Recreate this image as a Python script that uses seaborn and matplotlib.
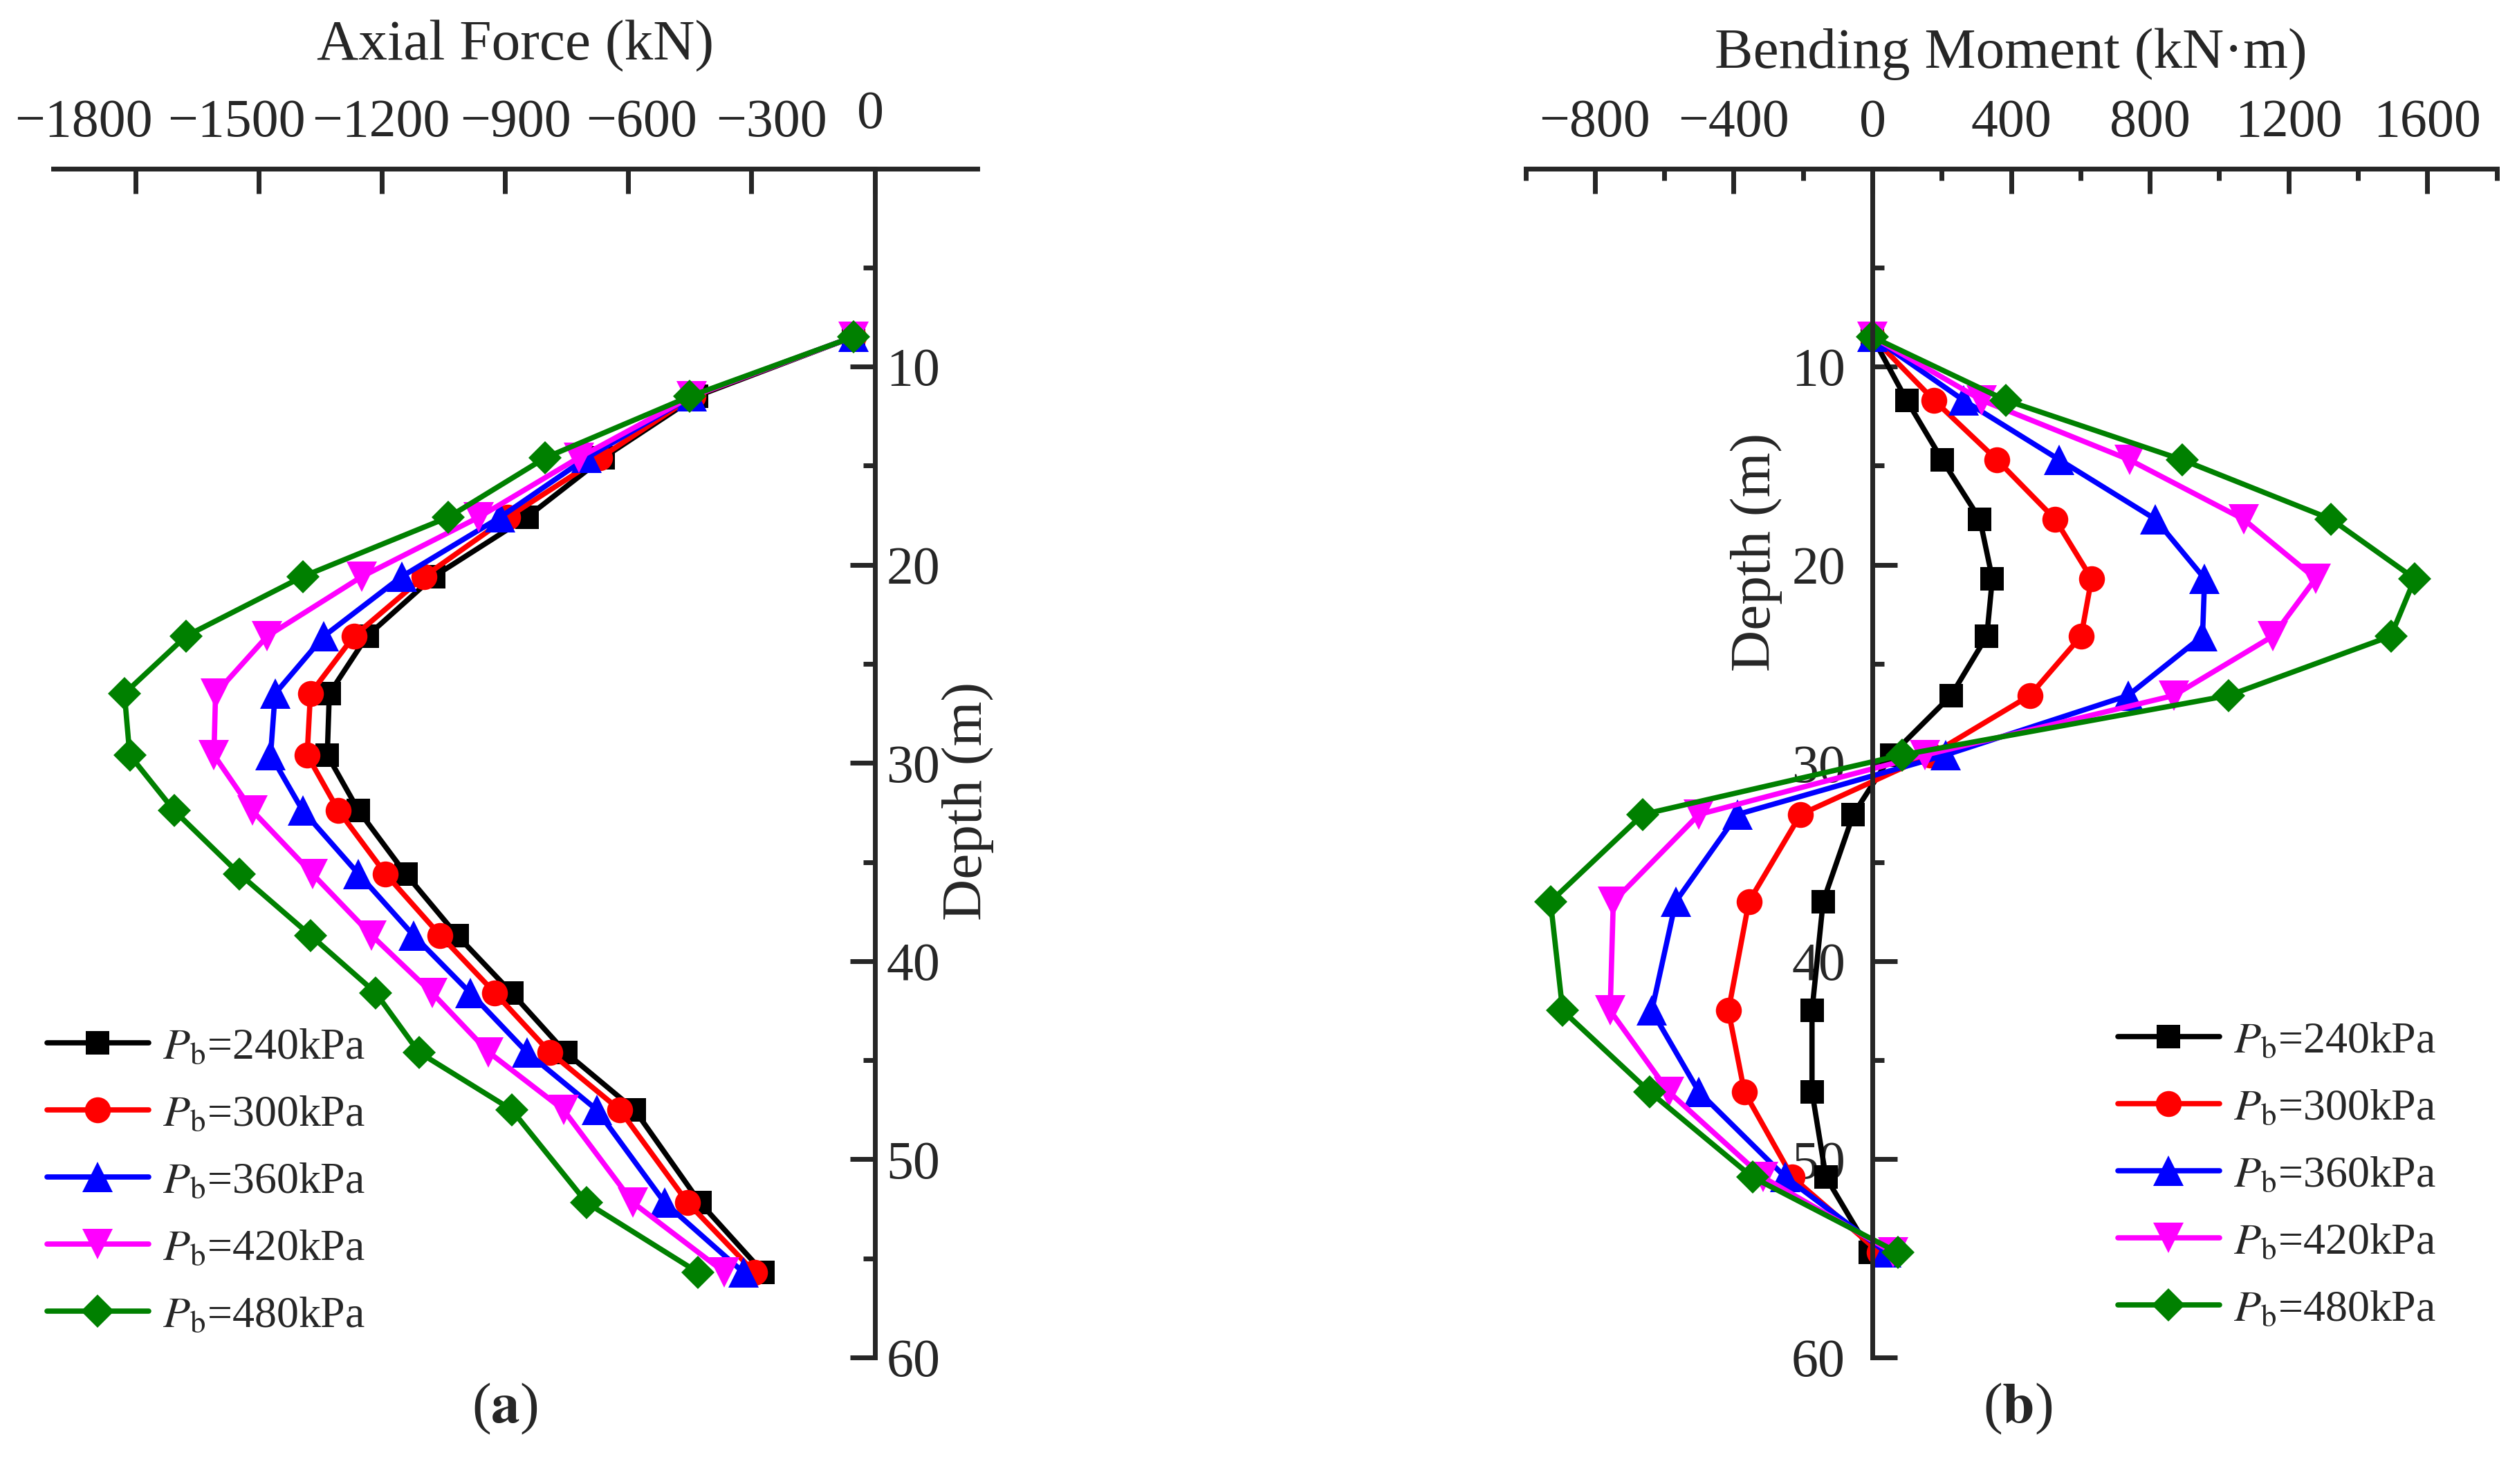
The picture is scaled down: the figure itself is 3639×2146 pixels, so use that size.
import numpy as np
import pandas as pd
import seaborn as sns
import matplotlib
matplotlib.use("Agg")
import matplotlib.pyplot as plt
import matplotlib.transforms as mtransforms
from matplotlib.ticker import MultipleLocator, FuncFormatter

# loads (kPa) and styles
loads = ["240", "300", "360", "420", "480"]
colors = ["#000000", "#ff0000", "#0000ff", "#ff00ff", "#008000"]
markers = ["s", "o", "^", "v", "D"]
msizes = [25, 27, 31, 31, 24]

# (a) axial force
depth_a = [8.5, 11.5, 14.6, 17.6, 20.6, 23.6, 26.5, 29.6, 32.4, 35.6, 38.7, 41.6, 44.6, 47.5, 52.2, 55.7]
axial_240 = [-52, -434, -661, -847, -1074, -1236, -1328, -1333, -1257, -1142, -1017, -884, -753, -585, -425, -272]
axial_300 = [-52, -442, -669, -893, -1098, -1268, -1374, -1382, -1306, -1191, -1058, -925, -791, -621, -455, -293]
axial_360 = [-52, -445, -701, -912, -1152, -1341, -1460, -1471, -1393, -1257, -1123, -985, -847, -677, -511, -320]
axial_420 = [-52, -445, -721, -964, -1249, -1479, -1605, -1609, -1516, -1369, -1225, -1078, -940, -758, -588, -366]
axial_480 = [-52, -450, -802, -1038, -1393, -1677, -1827, -1814, -1706, -1547, -1374, -1215, -1110, -884, -701, -431]

# (b) bending moment
depth_b = [8.5, 11.7, 14.7, 17.7, 20.7, 23.6, 26.6, 29.6, 32.6, 37.0, 42.5, 46.6, 50.9, 54.7]
moment_240 = [0, 99, 201, 310, 346, 330, 227, 55, -55, -142, -174, -174, -134, -5]
moment_300 = [0, 178, 359, 527, 632, 602, 454, 168, -207, -356, -415, -369, -231, 20]
moment_360 = [0, 263, 539, 816, 958, 952, 737, 211, -389, -567, -636, -500, -251, 40]
moment_420 = [0, 316, 741, 1070, 1278, 1155, 869, 152, -500, -747, -756, -587, -316, 59]
moment_480 = [0, 385, 893, 1323, 1564, 1495, 1027, 85, -662, -928, -893, -642, -346, 73]

axial = [axial_240, axial_300, axial_360, axial_420, axial_480]
moment = [moment_240, moment_300, moment_360, moment_420, moment_480]

# top tick values of panel (a) and how far each label sits off its tick (px)
axial_ticks = [-1800, -1500, -1200, -900, -600, -300, 0]
axial_label_dx = [-75, -32, -1, 15, 19, 29, -6]
axial_label_dy = [0, 0, 0, 0, 0, 0, 12]

sns.set_style("white")
plt.rcParams["font.family"] = ["Liberation Serif", "DejaVu Serif"]
plt.rcParams["mathtext.fontset"] = "stix"
plt.rcParams["axes.unicode_minus"] = True

fig = plt.figure(figsize=(36.39, 21.46), dpi=100)
ax1 = fig.add_axes([0.0212, 0.0853, 0.3671, 0.8012])
ax2 = fig.add_axes([0.6061, 0.0853, 0.3858, 0.8012])


def draw(ax, depth, series):
    for i, vals in enumerate(series):
        df = pd.DataFrame({"x": vals, "depth": depth})
        sns.lineplot(data=df, x="x", y="depth", ax=ax, sort=False, estimator=None,
                     color=colors[i], marker=markers[i], markersize=msizes[i],
                     markeredgewidth=0, linewidth=5.5,
                     label=r"$P_{\mathrm{b}}$=" + loads[i] + "kPa")


draw(ax1, depth_a, axial)
draw(ax2, depth_b, moment)

hide_zero = FuncFormatter(lambda v, p: "" if abs(v) < 1e-9 else f"{v:g}")

for ax in (ax1, ax2):
    ax.set_ylim(60, 0)
    ax.yaxis.set_major_locator(MultipleLocator(10))
    ax.yaxis.set_minor_locator(MultipleLocator(5))
    ax.yaxis.set_major_formatter(hide_zero)
    ax.xaxis.tick_top()
    ax.xaxis.set_label_position("top")
    ax.spines["bottom"].set_visible(False)
    for s in ax.spines.values():
        s.set_linewidth(5)
    ax.tick_params(which="both", direction="in", width=5, labelsize=56)
    ax.tick_params(which="major", length=26)
    ax.tick_params(which="minor", length=12)
    ax.tick_params(axis="x", pad=21)

# panel a
ax1.set_xlim(-2000, 250)
ax1.set_xticks(axial_ticks)
ax1.spines["left"].set_visible(False)
ax1.spines["right"].set_position(("data", 0))
ax1.yaxis.tick_right()
ax1.yaxis.set_label_position("right")
ax1.tick_params(axis="y", pad=12)
ax1.set_xlabel("Axial Force (kN)", fontsize=60, labelpad=32)
ax1.set_ylabel("Depth (m)", fontsize=60)
ax1.yaxis.label.set_ha("center")
ax1.yaxis.label.set_va("center")
ax1.yaxis.set_label_coords(0.990, 0.468)
for tick, dx, dy in zip(ax1.xaxis.get_major_ticks(), axial_label_dx, axial_label_dy):
    off = mtransforms.ScaledTranslation(dx / 100, dy / 100, fig.dpi_scale_trans)
    tick.label2.set_transform(tick.label2.get_transform() + off)

# panel b
ax2.set_xlim(-1000, 1800)
ax2.xaxis.set_major_locator(MultipleLocator(400))
ax2.xaxis.set_minor_locator(MultipleLocator(200))
ax2.spines["right"].set_visible(False)
ax2.spines["left"].set_position(("data", 0))
ax2.yaxis.tick_left()
ax2.tick_params(axis="y", pad=28)
ax2.set_xlabel("Bending Moment (kN\u00b7m)", fontsize=60, labelpad=32)
ax2.set_ylabel("Depth (m)", fontsize=60)
ax2.yaxis.label.set_ha("center")
ax2.yaxis.label.set_va("center")
ax2.yaxis.set_label_coords(0.2375, 0.6775)

leg_kw = dict(frameon=False, fontsize=46, handlelength=2.3, handletextpad=0.32,
              labelspacing=0.6, borderpad=0, borderaxespad=0, loc="center left")
ax1.legend(bbox_to_anchor=(68 / 3639, 0.2036), bbox_transform=fig.transFigure, **leg_kw)
ax2.legend(bbox_to_anchor=(3062 / 3639, 0.2078), bbox_transform=fig.transFigure, **leg_kw)

fig.text(730 / 3639, 1 - 2037 / 2146, r"($\mathbf{a}$)", fontsize=60, ha="center", va="center")
fig.text(2917 / 3639, 1 - 2037 / 2146, r"($\mathbf{b}$)", fontsize=60, ha="center", va="center")

fig.savefig("out.png", dpi=100)
